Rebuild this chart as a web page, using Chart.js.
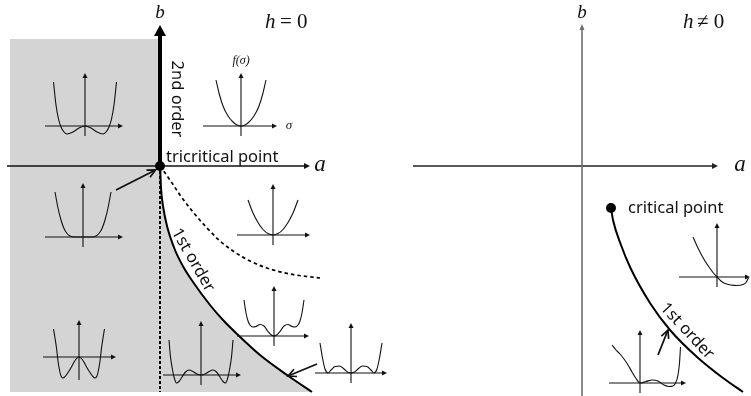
<!DOCTYPE html>
<html>
<head>
<meta charset="utf-8">
<script src="https://cdn.jsdelivr.net/npm/chart.js@4.4.1/dist/chart.umd.min.js"></script>
<style>
  html, body { margin: 0; padding: 0; background: #fff; }
  #stage { position: relative; width: 751px; height: 396px; overflow: hidden; }
  #stage canvas { position: absolute; }
</style>
</head>
<body>
<div id="stage">
  <canvas id="leftChart" width="380" height="396" style="left:0;top:0"></canvas>
  <canvas id="rightChart" width="371" height="396" style="left:380px;top:0"></canvas>
</div>
<script>
// ── Data: h = 0 panel (a, b units) ───────────────────────────────────────────
const firstOrderA = [0, 0.1, 0.3, 0.7, 1.5, 2.4, 3.3, 5.0, 6.3, 7.7, 10.0, 12.7, 15.2];
const firstOrderB = [0, -2.2, -4.0, -6.0, -8.4, -10.2, -11.6, -13.9, -15.4, -16.8, -18.9, -20.9, -22.6];
const spinodalA = [0, 1.0, 2.0, 3.3, 4.7, 6.0, 7.3, 9.0, 10.7, 13.0, 16.0];
const spinodalB = [0, -1.4, -2.9, -4.6, -6.2, -7.5, -8.5, -9.5, -10.2, -10.8, -11.2];
const orderedTopA = [-15, 0.2];
const orderedTopB = [12.7, 12.7];
const regionBottom = -22.6;
const secondOrderA = [0, 0];
const secondOrderB = [0, 13.0];
const dashedA = [0, 0];
const dashedB = [0, -22.6];
const axisLeftA = [-15.3, 14.4];
const axisLeftB = [0, 0];
const tricriticalPoint = [0, 0];
const arrowTriA = [-4.4, -0.45];
const arrowTriB = [-2.4, -0.4];
const arrowCoexA = [15.7, 12.8];
const arrowCoexB = [-19.8, -21.0];

// ── Data: h ≠ 0 panel ────────────────────────────────────────────────────────
const firstOrderHA = [2.9, 3.1, 3.9, 4.8, 6.8, 8.8, 11.5, 14.1, 16.1];
const firstOrderHB = [-4.2, -5.4, -7.9, -10.1, -13.7, -16.4, -19.1, -21.2, -22.6];
const criticalPoint = [2.9, -4.2];
const axisRightA = [-16.9, 13.0];
const axisRightB = [0, 0];
const bAxisRightA = [0, 0];
const bAxisRightB = [-23, 13.6];
const arrowRightA = [7.6, 8.6];
const arrowRightB = [-18.9, -16.4];

// ── Data: f(σ) insets ────────────────────────────────────────────────────────
const sigmaP1 = [-3.15, -2.9, -2.65, -2.4, -2.1, -1.8, -1.2, -0.6, 0, 0.6, 1.2, 1.8, 2.1, 2.4, 2.65, 2.9, 3.15];
const fP1 = [4.4, 2.1, 0.7, -0.1, -0.6, -0.8, -0.6, -0.2, 0, -0.2, -0.6, -0.8, -0.6, -0.1, 0.7, 2.1, 4.4];
const sigmaP2 = [-2.5, -2.2, -1.8, -1.3, -0.8, -0.4, 0, 0.4, 0.8, 1.3, 1.8, 2.2, 2.5];
const fP2 = [4.6, 3.3, 2.0, 1.0, 0.4, 0.1, 0, 0.1, 0.4, 1.0, 2.0, 3.3, 4.6];
const sigmaP3 = [-2.8, -2.5, -2.2, -1.9, -1.6, -1.3, -0.9, 0, 0.9, 1.3, 1.6, 1.9, 2.2, 2.5, 2.8];
const fP3 = [4.5, 2.9, 1.7, 0.85, 0.35, 0.1, 0, 0, 0, 0.1, 0.35, 0.85, 1.7, 2.9, 4.5];
const sigmaP4 = [-2.5, -2.0, -1.5, -1.0, -0.5, 0, 0.5, 1.0, 1.5, 2.0, 2.5];
const fP4 = [3.5, 2.2, 1.25, 0.55, 0.14, 0, 0.14, 0.55, 1.25, 2.2, 3.5];
const sigmaP5 = [-2.55, -2.4, -2.25, -2.1, -1.95, -1.8, -1.6, -1.35, -1.0, -0.7, -0.4, 0, 0.4, 0.7, 1.0, 1.35, 1.6, 1.8, 1.95, 2.1, 2.25, 2.4, 2.55];
const fP5 = [2.8, 1.9, 0.9, -0.4, -1.3, -1.9, -2.1, -1.9, -1.4, -0.9, -0.35, 0, -0.35, -0.9, -1.4, -1.9, -2.1, -1.9, -1.3, -0.4, 0.9, 1.9, 2.8];
const sigmaP6 = [-3.2, -3.05, -2.9, -2.7, -2.45, -2.2, -1.9, -1.55, -1.2, -0.8, -0.4, 0, 0.4, 0.8, 1.2, 1.55, 1.9, 2.2, 2.45, 2.7, 2.9, 3.05, 3.2];
const fP6 = [3.5, 1.8, 0.8, -0.2, -0.8, -0.65, -0.2, 0.3, 0.5, 0.35, 0.1, 0, 0.1, 0.35, 0.5, 0.3, -0.2, -0.65, -0.8, -0.2, 0.8, 1.8, 3.5];
const sigmaP7 = [-3.0, -2.8, -2.6, -2.4, -2.1, -1.8, -1.4, -1.0, -0.6, -0.3, 0, 0.3, 0.6, 1.0, 1.4, 1.8, 2.1, 2.4, 2.6, 2.8, 3.0];
const fP7 = [3.6, 2.3, 1.5, 1.1, 0.9, 0.95, 1.15, 1.0, 0.45, 0.12, 0, 0.12, 0.45, 1.0, 1.15, 0.95, 0.9, 1.1, 1.5, 2.3, 3.6];
const sigmaP8 = [-3.1, -2.85, -2.6, -2.3, -2.0, -1.6, -1.15, -0.7, -0.35, 0, 0.35, 0.7, 1.15, 1.6, 2.0, 2.3, 2.6, 2.85, 3.1];
const fP8 = [3.0, 1.5, 0.4, 0, 0.3, 0.65, 0.7, 0.4, 0.1, 0, 0.1, 0.4, 0.7, 0.65, 0.3, 0, 0.4, 1.5, 3.0];
const sigmaR1 = [-2.4, -2.0, -1.6, -1.2, -0.8, -0.4, 0, 0.4, 0.8, 1.4, 2.0, 2.6, 2.9, 3.15];
const fR1 = [4.0, 3.1, 2.3, 1.6, 1.0, 0.45, 0, -0.4, -0.65, -0.8, -0.85, -0.75, -0.55, -0.1];
const sigmaR2 = [-2.8, -2.4, -2.0, -1.6, -1.2, -0.8, -0.4, 0, 0.6, 1.2, 1.8, 2.4, 2.9, 3.3, 3.6, 3.8, 3.95, 4.05];
const fR2 = [3.8, 3.3, 2.9, 2.4, 1.8, 1.1, 0.45, 0, 0.15, 0.3, 0.2, -0.2, -0.35, -0.3, 0.1, 0.8, 2.0, 3.6];

// inset placement: origin on the page and axis reach (px)
const insets = [
  { x0: 85,  y0: 126, L: 40, R: 38, U: 53, D: 10, sigma: sigmaP1, f: fP1 },
  { x0: 241, y0: 126, L: 38, R: 36, U: 53, D: 10, sigma: sigmaP2, f: fP2 },
  { x0: 83,  y0: 237, L: 38, R: 40, U: 54, D: 10, sigma: sigmaP3, f: fP3 },
  { x0: 273, y0: 235, L: 36, R: 37, U: 51, D: 10, sigma: sigmaP4, f: fP4 },
  { x0: 79,  y0: 357, L: 36, R: 37, U: 37, D: 23, sigma: sigmaP5, f: fP5 },
  { x0: 201, y0: 375, L: 38, R: 40, U: 54, D: 10, sigma: sigmaP6, f: fP6 },
  { x0: 274, y0: 336, L: 37, R: 35, U: 50, D: 10, sigma: sigmaP7, f: fP7 },
  { x0: 351, y0: 373, L: 36, R: 36, U: 50, D: 10, sigma: sigmaP8, f: fP8 },
  { x0: 717, y0: 277, L: 38, R: 33, U: 54, D: 10, sigma: sigmaR1, f: fR1 },
  { x0: 640, y0: 383, L: 31, R: 46, U: 53, D: 10, sigma: sigmaR2, f: fR2 }
];

// ── Helpers ──────────────────────────────────────────────────────────────────
const pts = (xs, ys) => xs.map((x, i) => ({ x, y: ys[i] }));

function line(xs, ys, extra) {
    return Object.assign({
        data: pts(xs, ys), showLine: true, pointRadius: 0, borderColor: '#111',
        borderWidth: 1.2, tension: 0, fill: false, clip: false
    }, extra);
}

function drawHead(ctx, x, y, ang, style, color) {
    const dx = Math.cos(ang), dy = Math.sin(ang);
    ctx.save();
    ctx.fillStyle = color; ctx.strokeStyle = color;
    if (style.type === 'filled') {
        const tx = x + dx * style.len, ty = y + dy * style.len;
        ctx.beginPath();
        ctx.moveTo(tx, ty);
        ctx.lineTo(x - dy * style.half, y + dx * style.half);
        ctx.lineTo(x + dy * style.half, y - dx * style.half);
        ctx.closePath();
        ctx.fill();
    } else {
        ctx.lineWidth = style.width || 1.5;
        ctx.beginPath();
        ctx.moveTo(x - style.len * Math.cos(ang - 0.45), y - style.len * Math.sin(ang - 0.45));
        ctx.lineTo(x, y);
        ctx.lineTo(x - style.len * Math.cos(ang + 0.45), y - style.len * Math.sin(ang + 0.45));
        ctx.stroke();
    }
    ctx.restore();
}

const arrowHeads = {
    id: 'arrowHeads',
    afterDatasetsDraw(chart) {
        chart.data.datasets.forEach((ds, i) => {
            if (!ds.arrow) return;
            const p = chart.getDatasetMeta(i).data;
            const a = p[p.length - 2], b = p[p.length - 1];
            drawHead(chart.ctx, b.x, b.y, Math.atan2(b.y - a.y, b.x - a.x), ds.arrow, ds.borderColor);
        });
    }
};

function textPlugin(items) {
    return {
        id: 'textLabels',
        afterDatasetsDraw(chart) {
            const { ctx, scales: { x, y } } = chart;
            items.forEach(t => {
                ctx.save();
                ctx.translate(x.getPixelForValue(t.a), y.getPixelForValue(t.b));
                if (t.rot) ctx.rotate(t.rot * Math.PI / 180);
                ctx.font = t.font;
                ctx.fillStyle = '#111';
                ctx.textAlign = t.align || 'center';
                ctx.textBaseline = 'middle';
                ctx.fillText(t.text, 0, 0);
                ctx.restore();
            });
        }
    };
}

function baseOptions(xMin, xMax, yMin, yMax) {
    return {
        responsive: false, animation: false, events: [],
        layout: { padding: 0, autoPadding: false },
        scales: {
            x: { type: 'linear', display: false, bounds: 'data', min: xMin, max: xMax },
            y: { type: 'linear', display: false, bounds: 'data', min: yMin, max: yMax }
        },
        plugins: { legend: { display: false }, tooltip: { enabled: false } }
    };
}

const SANS = '16.5px "Noto Sans", "Liberation Sans", sans-serif';
const axisHead = { type: 'filled', len: 6, half: 3 };
const openHead = { type: 'open', len: 9, width: 1.7 };
const grey = '#d4d4d4';

// ── Left panel: h = 0 ────────────────────────────────────────────────────────
const leftLabels = [
    { text: 'b', a: 0, b: 15.35, font: 'italic 19px "Liberation Serif", serif' },
    { text: 'a', a: 16, b: 0.15, font: 'italic 23px "Liberation Serif", serif' },
    { text: 'h', a: 10.5, b: 14.4, font: 'italic 21px "Liberation Serif", serif', align: 'left' },
    { text: '= 0', a: 12.0, b: 14.4, font: '21px "Liberation Serif", serif', align: 'left' },
    { text: '2nd order', a: 1.65, b: 6.7, font: SANS, rot: 90 },
    { text: 'tricritical point', a: 0.6, b: 0.9, font: SANS, align: 'left' },
    { text: '1st order', a: 3.3, b: -9.4, font: SANS, rot: 60 },
    { text: 'f(σ)', a: 8.1, b: 10.5, font: 'italic 12px "Liberation Serif", serif' },
    { text: 'σ', a: 12.9, b: 4.0, font: 'italic 13px "Liberation Serif", serif' }
];

new Chart(document.getElementById('leftChart'), {
    type: 'scatter',
    data: {
        datasets: [
            line(orderedTopA, orderedTopB, { borderWidth: 0, fill: { value: regionBottom }, backgroundColor: grey, order: 10 }),
            line(firstOrderA, firstOrderB, { borderWidth: 0, fill: { value: regionBottom }, backgroundColor: grey, cubicInterpolationMode: 'monotone', order: 9 }),
            line(dashedA, dashedB, { borderWidth: 2, borderColor: '#000', borderDash: [3, 2], order: 6 }),
            line(spinodalA, spinodalB, { borderWidth: 1.7, borderColor: '#000', borderDash: [3.5, 3], cubicInterpolationMode: 'monotone', order: 6 }),
            line(axisLeftA, axisLeftB, { borderWidth: 1.3, arrow: axisHead, order: 5 }),
            line(secondOrderA, secondOrderB, { borderWidth: 4, borderColor: '#000', arrow: { type: 'filled', len: 11, half: 6 }, order: 4 }),
            line(firstOrderA, firstOrderB, { borderWidth: 2, borderColor: '#000', cubicInterpolationMode: 'monotone', order: 3 }),
            line(arrowTriA, arrowTriB, { borderWidth: 1.8, arrow: openHead, order: 2 }),
            line(arrowCoexA, arrowCoexB, { borderWidth: 1.8, arrow: openHead, order: 2 }),
            { data: pts([tricriticalPoint[0]], [tricriticalPoint[1]]), pointRadius: 5, backgroundColor: '#000', borderWidth: 0, clip: false, order: 1 }
        ]
    },
    options: baseOptions(-16, 22, -23, 16.6),
    plugins: [arrowHeads, textPlugin(leftLabels)]
});

// ── Right panel: h ≠ 0 ───────────────────────────────────────────────────────
const rightLabels = [
    { text: 'b', a: 0, b: 15.35, font: 'italic 19px "Liberation Serif", serif' },
    { text: 'a', a: 15.8, b: 0.15, font: 'italic 23px "Liberation Serif", serif' },
    { text: 'h', a: 10.1, b: 14.4, font: 'italic 21px "Liberation Serif", serif', align: 'left' },
    { text: '≠ 0', a: 11.5, b: 14.4, font: '21px "Liberation Serif", "DejaVu Serif", serif', align: 'left' },
    { text: 'critical point', a: 4.6, b: -4.2, font: SANS, align: 'left' },
    { text: '1st order', a: 10.5, b: -16.5, font: SANS, rot: 47 }
];

new Chart(document.getElementById('rightChart'), {
    type: 'scatter',
    data: {
        datasets: [
            line(bAxisRightA, bAxisRightB, { borderWidth: 1.6, borderColor: '#6e6e6e', arrow: { type: 'filled', len: 6, half: 2.5 }, order: 5 }),
            line(axisRightA, axisRightB, { borderWidth: 1.3, borderColor: '#222', arrow: axisHead, order: 5 }),
            line(firstOrderHA, firstOrderHB, { borderWidth: 2, borderColor: '#000', cubicInterpolationMode: 'monotone', order: 3 }),
            line(arrowRightA, arrowRightB, { borderWidth: 1.8, arrow: openHead, order: 2 }),
            { data: pts([criticalPoint[0]], [criticalPoint[1]]), pointRadius: 5, backgroundColor: '#000', borderWidth: 0, clip: false, order: 1 }
        ]
    },
    options: baseOptions(-20.2, 16.9, -23, 16.6),
    plugins: [arrowHeads, textPlugin(rightLabels)]
});

// ── Insets: f(σ) sketches ────────────────────────────────────────────────────
const stage = document.getElementById('stage');
const PX = 10; // px per σ / f unit
const PAD = 5;

insets.forEach(ins => {
    const cv = document.createElement('canvas');
    cv.width = ins.L + ins.R + 2 * PAD;
    cv.height = ins.U + ins.D + 2 * PAD;
    cv.style.left = (ins.x0 - ins.L - PAD) + 'px';
    cv.style.top = (ins.y0 - ins.U - PAD) + 'px';
    stage.appendChild(cv);

    const hx = [-ins.L / PX, (ins.R - 5) / PX];
    const vy = [-ins.D / PX, (ins.U - 5) / PX];
    new Chart(cv, {
        type: 'scatter',
        data: {
            datasets: [
                line(ins.sigma, ins.f, { borderWidth: 1.1, cubicInterpolationMode: 'monotone' }),
                line(hx, [0, 0], { borderWidth: 1.1, arrow: { type: 'filled', len: 5, half: 2.5 } }),
                line([0, 0], vy, { borderWidth: 1.1, arrow: { type: 'filled', len: 5, half: 2.5 } })
            ]
        },
        options: baseOptions(-(ins.L + PAD) / PX, (ins.R + PAD) / PX, -(ins.D + PAD) / PX, (ins.U + PAD) / PX),
        plugins: [arrowHeads]
    });
});
</script>
</body>
</html>
